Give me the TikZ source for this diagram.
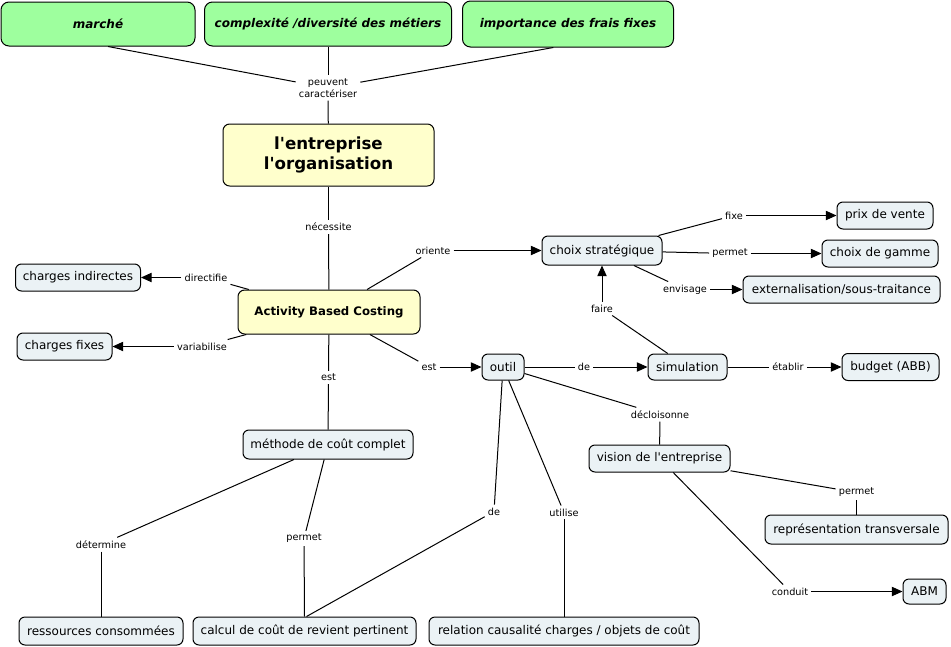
\documentclass[tikz,border=0pt]{standalone}
\usepackage{fontspec}
\setmainfont{DejaVu Sans}
\usetikzlibrary{arrows.meta}
\definecolor{cgreen}{RGB}{158,255,158}
\definecolor{cyellow}{RGB}{255,255,204}
\definecolor{cblue}{RGB}{235,242,245}
\newcommand{\apo}{\textquotesingle}
\tikzset{
  box/.style={draw=black, line width=0.75pt, rounded corners=4.5pt, inner sep=0pt, align=center, font=\fontsize{9}{11}\selectfont},
  topbox/.style={box, fill=cgreen, rounded corners=6pt, font=\fontsize{9}{11}\selectfont\bfseries\itshape},
  mainbox/.style={box, fill=cyellow, rounded corners=5pt},
  cbox/.style={box, fill=cblue},
  lab/.style={inner sep=2.2pt, align=center, font=\fontsize{7.3}{9}\selectfont},
  conn/.style={line width=0.75pt},
  arr/.style={conn, -{Triangle[length=8pt,width=7pt]}}
}
\begin{document}
\begin{tikzpicture}[x=0.75pt,y=-0.75pt]
\useasboundingbox (0,0) rectangle (951,647);
% concepts
\node[topbox, minimum width=145.5pt, minimum height=33pt] (marche) at (98,24) {marché};
\node[topbox, minimum width=185.25pt, minimum height=33pt] (complex) at (328,24) {complexité /diversité des métiers};
\node[topbox, minimum width=158.25pt, minimum height=34.5pt] (frais) at (568,24) {importance des frais fixes};
\node[mainbox, minimum width=158.25pt, minimum height=46.5pt, font=\fontsize{12.5}{15}\selectfont\bfseries] (entr) at (328.5,155) {l\apo entreprise\\l\apo organisation};
\node[mainbox, minimum width=136.5pt, minimum height=33pt, font=\fontsize{8.8}{11}\selectfont\bfseries] (abc) at (329,312) {Activity Based Costing};
\node[cbox, minimum width=93.75pt, minimum height=20.25pt] (chind) at (78,277.5) {charges indirectes};
\node[cbox, minimum width=71.25pt, minimum height=20.25pt] (chfix) at (64.5,346.5) {charges fixes};
\node[cbox, minimum width=90pt, minimum height=21.75pt] (choix) at (602,250.5) {choix stratégique};
\node[cbox, minimum width=72pt, minimum height=20.25pt] (prix) at (885,215.5) {prix de vente};
\node[cbox, minimum width=87pt, minimum height=20.25pt] (gamme) at (880,253.5) {choix de gamme};
\node[cbox, minimum width=147.75pt, minimum height=20.25pt] (ext) at (841.5,289.5) {externalisation/sous-traitance};
\node[cbox, minimum width=31.5pt, minimum height=19.5pt] (outil) at (503,367) {outil};
\node[cbox, minimum width=59.25pt, minimum height=19.5pt] (simu) at (687.5,367) {simulation};
\node[cbox, minimum width=72.75pt, minimum height=20.25pt] (budget) at (890.5,367) {budget (ABB)};
\node[cbox, minimum width=105.75pt, minimum height=20.25pt] (vision) at (659.5,458.5) {vision de l\apo entreprise};
\node[cbox, minimum width=137.25pt, minimum height=21.75pt] (repr) at (856.5,529.5) {représentation transversale};
\node[cbox, minimum width=32.25pt, minimum height=18.75pt] (abm) at (924.5,591.5) {ABM};
\node[cbox, minimum width=127.5pt, minimum height=21.75pt] (methode) at (328,444.5) {méthode de coût complet};
\node[cbox, minimum width=123pt, minimum height=21pt] (ress) at (101,631) {ressources consommées};
\node[cbox, minimum width=167.25pt, minimum height=21pt] (calcul) at (304.5,631) {calcul de coût de revient pertinent};
\node[cbox, minimum width=202.5pt, minimum height=21pt] (relation) at (564,631) {relation causalité charges / objets de coût};
% labels
\node[lab] (lcar) at (328,88) {peuvent\\caractériser};
\node[lab] (lnec) at (328.5,227) {nécessite};
\node[lab] (lori) at (433,250.5) {oriente};
\node[lab] (ldir) at (206,277.5) {directifie};
\node[lab] (lvar) at (202,346.5) {variabilise};
\node[lab] (lest1) at (429,367) {est};
\node[lab] (lest2) at (328.5,377.5) {est};
\node[lab] (lfixe) at (734,215.5) {fixe};
\node[lab] (lperm1) at (730,253.5) {permet};
\node[lab] (lenv) at (685,289.5) {envisage};
\node[lab] (lfaire) at (602,308.5) {faire};
\node[lab] (lde1) at (584,367) {de};
\node[lab] (letab) at (788,367) {établir};
\node[lab] (ldecl) at (660,414.5) {décloisonne};
\node[lab] (lperm2) at (856.5,492.5) {permet};
\node[lab] (lcond) at (790,591.5) {conduit};
\node[lab] (lde2) at (494,511.5) {de};
\node[lab] (lutil) at (564,512.5) {utilise};
\node[lab] (ldet) at (101,544.5) {détermine};
\node[lab] (lperm3) at (304,538.5) {permet};
% connectors
\draw[conn] ([xshift=7.5pt]marche.south) -- (lcar);
\draw[conn] (complex) -- (lcar);
\draw[conn] ([xshift=-11pt]frais.south) -- (lcar);
\draw[conn] (lcar) -- (entr);
\draw[conn] (entr) -- (lnec);
\draw[conn] (lnec) -- (abc);
\draw[conn] (abc) -- (lori);
\draw[arr] (lori) -- (choix);
\draw[conn] (abc) -- (ldir);
\draw[arr] (ldir) -- (chind);
\draw[conn] (abc) -- (lvar);
\draw[arr] (lvar) -- (chfix);
\draw[conn] (abc) -- (lest1);
\draw[arr] (lest1) -- (outil);
\draw[conn] (abc) -- (lest2);
\draw[conn] (lest2) -- (methode);
\draw[conn] (choix) -- (lfixe);
\draw[arr] (lfixe) -- (prix);
\draw[conn] (choix) -- (lperm1);
\draw[arr] (lperm1) -- (gamme);
\draw[conn] (choix) -- (lenv);
\draw[arr] (lenv) -- (ext);
\draw[conn] (simu) -- (lfaire);
\draw[arr] (lfaire) -- (choix);
\draw[conn] (outil) -- (lde1);
\draw[arr] (lde1) -- (simu);
\draw[conn] (simu) -- (letab);
\draw[arr] (letab) -- (budget);
\draw[conn] (outil) -- (ldecl);
\draw[conn] (ldecl) -- (vision);
\draw[conn] (vision) -- (lperm2);
\draw[conn] (lperm2) -- (repr);
\draw[conn] (vision) -- (lcond);
\draw[arr] (lcond) -- (abm);
\draw[conn] (outil) -- (lde2);
\draw[conn] (lde2) -- ([xshift=1.5pt]calcul.north);
\draw[conn] (outil) -- (lutil);
\draw[conn] (lutil) -- (relation);
\draw[conn] (methode) -- (ldet);
\draw[conn] (ldet) -- (ress);
\draw[conn] (methode) -- (lperm3);
\draw[conn] (lperm3) -- (calcul.north);
\end{tikzpicture}
\end{document}
